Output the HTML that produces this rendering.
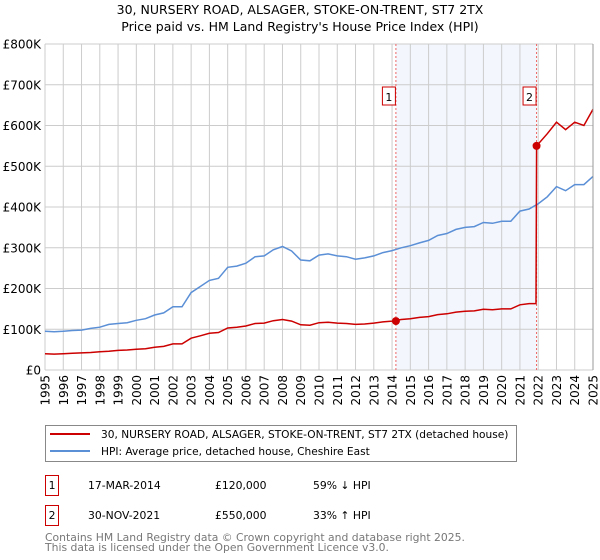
<!DOCTYPE html>
<html><head><meta charset="utf-8"><style>
body{margin:0;background:#fff;font-family:"DejaVu Sans","Liberation Sans",sans-serif;}
#wrap{position:relative;width:600px;height:560px;overflow:hidden}
svg text{font-family:"DejaVu Sans","Liberation Sans",sans-serif}
</style></head><body>
<div id="wrap">
<svg id="chart" width="600" height="560"></svg>
</div>
<script>
const years=[1995,1995.5,1996,1996.5,1997,1997.5,1998,1998.5,1999,1999.5,2000,2000.5,2001,2001.5,2002,2002.5,2003,2003.5,2004,2004.5,2005,2005.5,2006,2006.5,2007,2007.5,2008,2008.5,2009,2009.5,2010,2010.5,2011,2011.5,2012,2012.5,2013,2013.5,2014,2014.5,2015,2015.5,2016,2016.5,2017,2017.5,2018,2018.5,2019,2019.5,2020,2020.5,2021,2021.5,2021.88,2021.91,2022.5,2023,2023.5,2024,2024.5,2025];
const hpiValues=[95,94,95,97,98,102,105,112,114,116,122,126,135,140,155,155,190,205,220,225,252,255,262,278,280,295,303,292,270,268,282,285,280,278,272,275,280,288,293,300,305,312,318,330,335,345,350,352,362,360,365,365,390,395,405,405,425,450,440,455,455,475];
const redValues=[40,39,40,41,42,43,45,46,48,49,51,52,56,58,64,64,78,84,90,92,103,105,108,114,115,121,124,120,111,110,116,117,115,114,112,113,115,118,120,124,126,129,131,136,138,142,144,145,149,148,150,150,160,163,163,550,580,608,590,608,600,640];
const yTicks=[0,100,200,300,400,500,600,700,800];
const yTickLabels=["£0","£100K","£200K","£300K","£400K","£500K","£600K","£700K","£800K"];
const xTickYears=[1995,1996,1997,1998,1999,2000,2001,2002,2003,2004,2005,2006,2007,2008,2009,2010,2011,2012,2013,2014,2015,2016,2017,2018,2019,2020,2021,2022,2023,2024,2025];
const saleYears=[2014.21,2021.91];
const salePrices=[120,550];
const saleLabels=["1","2"];

const L=45,R=593,T=44,B=370;
const xs=y=>L+(y-1995)/30*(R-L);
const ys=v=>B-v/800*(B-T);
const svg=document.getElementById('chart');
const NS='http://www.w3.org/2000/svg';
function mk(tag,attrs,parent){const e=document.createElementNS(NS,tag);for(const k in attrs)e.setAttribute(k,attrs[k]);(parent||svg).appendChild(e);return e;}

let t=mk('text',{x:300,y:14,'text-anchor':'middle','font-size':12.5,fill:'#000'});t.textContent='30, NURSERY ROAD, ALSAGER, STOKE-ON-TRENT, ST7 2TX';


t=mk('text',{x:300,y:31,'text-anchor':'middle','font-size':12.5,fill:'#000'});t.textContent="Price paid vs. HM Land Registry's House Price Index (HPI)";



let sh=mk('rect',{x:xs(saleYears[0]),y:T,width:xs(saleYears[1])-xs(saleYears[0]),height:B-T,fill:'#eef3fc',opacity:0.7});



yTicks.forEach((v,i)=>{
  const g=mk('line',{x1:L,x2:R,y1:ys(v),y2:ys(v),stroke:'#cccccc','stroke-width':1});
  
  
  const lb=mk('text',{x:L-4,y:ys(v)+4.5,'text-anchor':'end','font-size':12,fill:'#000'});lb.textContent=yTickLabels[i];
  
  
});
xTickYears.forEach(yr=>{
  const g=mk('line',{x1:xs(yr),x2:xs(yr),y1:T,y2:B,stroke:'#cccccc','stroke-width':1});
  
  
  const lb=mk('text',{x:0,y:0,'text-anchor':'end','font-size':12,fill:'#000',transform:`translate(${xs(yr)+4.5},${B+5}) rotate(-90)`});lb.textContent=yr;
  
  
});

saleYears.forEach((yr,i)=>{
  const l=mk('line',{x1:xs(yr),x2:xs(yr),y1:T,y2:B,stroke:'#ee6666','stroke-width':1,'stroke-dasharray':'2,2'});
  
  
  const bx=mk('rect',{x:xs(yr)-14+0.5,y:87,width:13,height:18,fill:'#fff',stroke:'#cc0000','stroke-width':1});
  
  
  const tx=mk('text',{x:xs(yr)-7,y:101,'text-anchor':'middle','font-size':11,fill:'#000'});tx.textContent=saleLabels[i];
  
  
});

function path(vals){return vals.map((v,i)=>(i?'L':'M')+xs(years[i]).toFixed(1)+','+ys(v).toFixed(1)).join(' ');}
let hp=mk('path',{d:path(hpiValues),fill:'none',stroke:'#5b8fd6','stroke-width':1.5});


let rp=mk('path',{d:path(redValues),fill:'none',stroke:'#cc0000','stroke-width':1.5});


saleYears.forEach((yr,i)=>{
  const c=mk('circle',{cx:xs(yr),cy:ys(salePrices[i]),r:4,fill:'#cc0000'});
  
  
});
let ax=mk('line',{x1:R,x2:R,y1:T,y2:B,stroke:'#999','stroke-width':1});



let lg=mk('rect',{x:45.5,y:425.5,width:471,height:36,fill:'#fff',stroke:'#888','stroke-width':1});


let l1=mk('line',{x1:50,x2:90,y1:434,y2:434,stroke:'#cc0000','stroke-width':2});


let lt=mk('text',{x:101,y:438,'font-size':10.6,fill:'#000'});lt.textContent='30, NURSERY ROAD, ALSAGER, STOKE-ON-TRENT, ST7 2TX (detached house)';


let l2=mk('line',{x1:50,x2:90,y1:451,y2:451,stroke:'#5b8fd6','stroke-width':2});


lt=mk('text',{x:101,y:455,'font-size':10.6,fill:'#000'});lt.textContent='HPI: Average price, detached house, Cheshire East';



const rows=[["1","17-MAR-2014","£120,000","59% ↓ HPI",485],["2","30-NOV-2021","£550,000","33% ↑ HPI",515]];
rows.forEach(r=>{
  const b=mk('rect',{x:45.5,y:r[4]-9.5,width:13,height:20,fill:'none',stroke:'#cc0000','stroke-width':1});
  
  
  const cols=[[52,'middle',r[0]],[88,'start',r[1]],[215,'start',r[2]],[313,'start',r[3]]];
  cols.forEach(c=>{const x=mk('text',{x:c[0],y:r[4]+4,'text-anchor':c[1],'font-size':10.8,fill:'#000'});x.textContent=c[2];
    
    });
});
let f=mk('text',{x:45,y:541,'font-size':10.8,fill:'#777'});f.textContent='Contains HM Land Registry data © Crown copyright and database right 2025.';


f=mk('text',{x:45,y:551,'font-size':10.8,fill:'#777'});f.textContent='This data is licensed under the Open Government Licence v3.0.';


</script>
</body></html>
